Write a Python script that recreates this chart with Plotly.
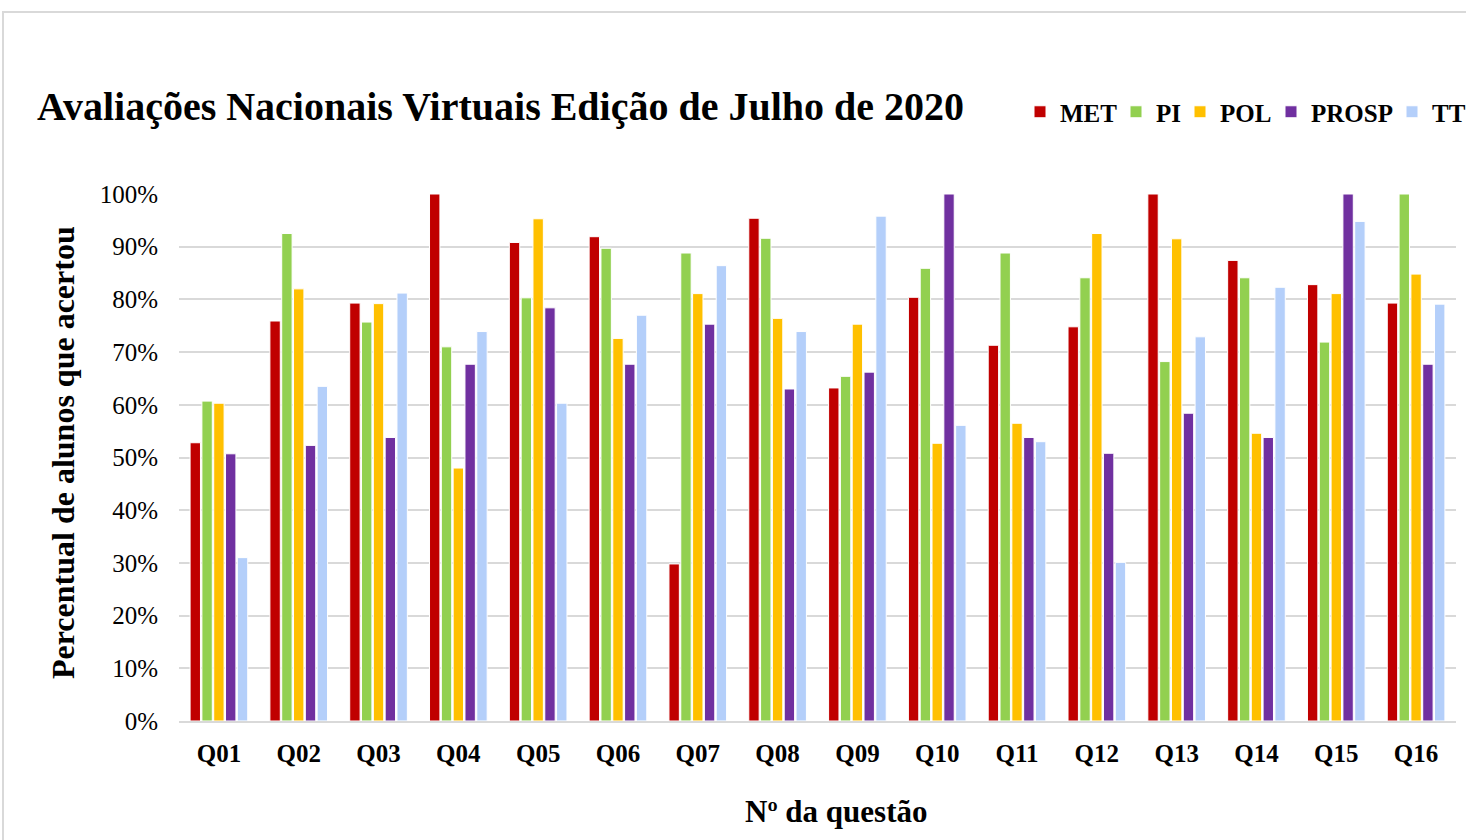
import plotly.graph_objects as go

questions = ["Q01", "Q02", "Q03", "Q04", "Q05", "Q06", "Q07", "Q08",
             "Q09", "Q10", "Q11", "Q12", "Q13", "Q14", "Q15", "Q16"]
met = [52.8, 75.9, 79.3, 100.0, 90.8, 91.9, 29.8, 95.4, 63.2, 80.4, 71.3, 74.8, 100.0, 87.4, 82.8, 79.3]
pi = [60.7, 92.5, 75.7, 71.0, 80.3, 89.7, 88.8, 91.6, 65.4, 85.9, 88.8, 84.1, 68.2, 84.1, 71.9, 100.0]
pol = [60.3, 82.0, 79.2, 48.0, 95.3, 72.6, 81.1, 76.4, 75.3, 52.7, 56.5, 92.5, 91.5, 54.6, 81.1, 84.8]
prosp = [50.7, 52.3, 53.8, 67.7, 78.4, 67.7, 75.3, 63.0, 66.2, 100.0, 53.8, 50.8, 58.4, 53.8, 100.0, 67.7]
tt = [31.0, 63.5, 81.2, 73.9, 60.3, 77.0, 86.4, 73.9, 95.8, 56.1, 53.0, 30.1, 72.9, 82.3, 94.8, 79.1]
y_ticks = [0, 10, 20, 30, 40, 50, 60, 70, 80, 90, 100]

series_names = ["MET", "PI", "POL", "PROSP", "TT"]
series_values = [met, pi, pol, prosp, tt]
series_colors = ["#C00000", "#92D050", "#FFC000", "#7030A0", "#B4CFFA"]
legend_x_px = [1020, 1116, 1180, 1271, 1392]

SERIF = "Liberation Serif"
L, R, T, B = 179, 10, 194, 119
W, H = 1466, 840
pw = W - L - R
ph = H - T - B

fig = go.Figure()
legend_layout = {}
for i, (name, vals, col) in enumerate(zip(series_names, series_values, series_colors)):
    lid = "legend" if i == 0 else "legend%d" % (i + 1)
    fig.add_trace(go.Bar(
        x=questions, y=[v / 100 for v in vals], name=name, legend=lid,
        marker=dict(color=col, line=dict(color="white", width=1)),
    ))
    legend_layout[lid] = dict(
        orientation="h", xref="container", yref="container",
        x=legend_x_px[i] / W, xanchor="left", y=1 - 112 / H, yanchor="middle",
        font=dict(family=SERIF, size=25, color="black", weight="bold"),
        itemwidth=30, bgcolor="rgba(0,0,0,0)")

fig.update_layout(
    width=W, height=H,
    margin=dict(l=L, r=R, t=T, b=B),
    paper_bgcolor="white", plot_bgcolor="white",
    barmode="group", bargap=0.26, bargroupgap=0.12,
    font=dict(family=SERIF, color="black"),
    title=dict(text="<b>Avaliações Nacionais Virtuais Edição de Julho de 2020</b>",
               font=dict(family=SERIF, size=40, color="black"),
               x=37 / W, xanchor="left", y=1 - 106 / H, yanchor="middle"),
    xaxis=dict(tickfont=dict(family=SERIF, size=25, color="black"),
               showgrid=False, showline=True, linecolor="#d9d9d9", linewidth=2,
               ticks="", ticklabelstandoff=9,
               tickvals=questions, ticktext=["<b>%s</b>" % q for q in questions]),
    yaxis=dict(range=[0, 1.0], tickvals=[v / 100 for v in y_ticks],
               ticktext=["%d%%" % v for v in y_ticks],
               tickfont=dict(family=SERIF, size=25, color="black"),
               showgrid=True, gridcolor="#d9d9d9", gridwidth=2,
               zeroline=False, showline=False, ticks="", ticklabelstandoff=20),
    showlegend=True,
    **legend_layout,
)

fig.add_annotation(text="<b>Percentual de alunos que acertou</b>", textangle=-90,
                   xref="paper", yref="paper", x=(63 - L) / pw, y=(H - B - 453) / ph,
                   xanchor="center", yanchor="middle", showarrow=False,
                   font=dict(family=SERIF, size=32, color="black"))
fig.add_annotation(text="<b>Nº da questão</b>",
                   xref="paper", yref="paper", x=(836 - L) / pw, y=(H - B - 811) / ph,
                   xanchor="center", yanchor="middle", showarrow=False,
                   font=dict(family=SERIF, size=31, color="black"))

fig.add_shape(type="rect", xref="paper", yref="paper",
              x0=(3 - L) / pw, x1=(W + 20 - L) / pw,
              y0=(H - B - (H + 20)) / ph, y1=(H - B - 12) / ph,
              line=dict(color="#d9d9d9", width=2), fillcolor="rgba(0,0,0,0)", layer="below")

fig.write_html("out.html", config={"displayModeBar": False},
               post_script="document.body.style.margin='0';")
